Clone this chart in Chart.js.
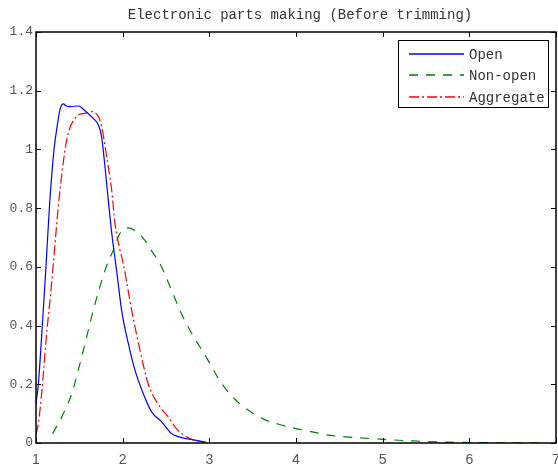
<!DOCTYPE html>
<html>
<head>
<meta charset="utf-8">
<title>Electronic parts making (Before trimming)</title>
<script src="https://cdn.jsdelivr.net/npm/chart.js@4.4.0/dist/chart.umd.min.js"></script>
<style>
    html, body { margin: 0; padding: 0; background: #fff; }
    #wrap { width: 558px; height: 468px; }
</style>
</head>
<body>
<div id="wrap"><canvas id="densityChart" width="558" height="468"></canvas></div>
<script>
// Data
const titleText = 'Electronic parts making (Before trimming)';
const seriesNames = ['Open', 'Non-open', 'Aggregate'];
const seriesColors = ['#0000ff', '#008000', '#ff0000'];

const openX = [1.00, 1.027, 1.073, 1.115, 1.154, 1.208, 1.25, 1.28, 1.315, 1.35, 1.39, 1.49, 1.565, 1.66, 1.72, 1.757, 1.796, 1.834, 1.884, 1.93, 1.988, 2.065, 2.142, 2.238, 2.334, 2.45, 2.565, 2.66, 2.85, 2.96];
const openY = [0.134, 0.20, 0.40, 0.60, 0.80, 1.00, 1.09, 1.14, 1.155, 1.148, 1.146, 1.148, 1.132, 1.106, 1.083, 1.043, 0.941, 0.827, 0.69, 0.588, 0.452, 0.339, 0.248, 0.168, 0.106, 0.072, 0.032, 0.02, 0.009, 0.003];

const nonOpenX = [1.192, 1.315, 1.412, 1.527, 1.661, 1.796, 1.892, 1.969, 2.065, 2.161, 2.238, 2.353, 2.43, 2.565, 2.66, 2.776, 2.892, 3.007, 3.1, 3.2, 3.35, 3.51, 3.66, 3.81, 4.0, 4.2, 4.39, 4.58, 4.97, 5.35, 5.74, 6.2, 6.9];
const nonOpenY = [0.032, 0.10, 0.168, 0.293, 0.452, 0.588, 0.657, 0.714, 0.733, 0.72, 0.697, 0.646, 0.611, 0.52, 0.452, 0.384, 0.327, 0.271, 0.222, 0.18, 0.134, 0.10, 0.077, 0.063, 0.049, 0.037, 0.026, 0.021, 0.013, 0.007, 0.003, 0.001, 0.0];

const aggX = [1.00, 1.027, 1.065, 1.123, 1.169, 1.20, 1.24, 1.277, 1.354, 1.469, 1.565, 1.642, 1.719, 1.758, 1.815, 1.873, 1.911, 1.969, 2.007, 2.104, 2.20, 2.296, 2.43, 2.526, 2.62, 2.776, 2.93];
const aggY = [0.03, 0.066, 0.168, 0.373, 0.509, 0.61, 0.75, 0.862, 1.032, 1.112, 1.123, 1.129, 1.112, 1.077, 0.975, 0.862, 0.748, 0.657, 0.611, 0.452, 0.316, 0.20, 0.123, 0.089, 0.049, 0.015, 0.003];

const xTicks = [1, 2, 3, 4, 5, 6, 7];
const yTicks = [0, 0.2, 0.4, 0.6, 0.8, 1, 1.2, 1.4];
const yTickLabels = ['0', '0.2', '0.4', '0.6', '0.8', '1', '1.2', '1.4'];

function toPoints(xs, ys) {
    return xs.map((x, i) => ({ x: x, y: ys[i] }));
}

const monoFont = '"Liberation Mono", "DejaVu Sans Mono", monospace';

// Frame, inward ticks, title and legend (MATLAB look)
const matlabFrame = {
    id: 'matlabFrame',
    afterDraw(chart) {
        const { ctx, chartArea: a, scales } = chart;
        const xs = scales.x, ys = scales.y;
        const tick = 5;
        ctx.save();

        ctx.strokeStyle = '#000';
        ctx.lineWidth = 1;
        ctx.beginPath();
        xTicks.forEach(v => {
            const px = Math.round(xs.getPixelForValue(v)) + 0.5;
            ctx.moveTo(px, a.bottom); ctx.lineTo(px, a.bottom - tick);
            ctx.moveTo(px, a.top); ctx.lineTo(px, a.top + tick);
        });
        yTicks.forEach(v => {
            const py = Math.round(ys.getPixelForValue(v)) + 0.5;
            ctx.moveTo(a.left, py); ctx.lineTo(a.left + tick, py);
            ctx.moveTo(a.right, py); ctx.lineTo(a.right - tick, py);
        });
        ctx.stroke();

        ctx.lineWidth = 1.5;
        ctx.strokeRect(a.left, a.top, a.right - a.left, a.bottom - a.top);

        // title
        ctx.fillStyle = '#333';
        ctx.font = '14px ' + monoFont;
        ctx.textAlign = 'center';
        ctx.textBaseline = 'middle';
        ctx.fillText(titleText, (a.left + a.right) / 2 + 4, 15);

        // legend
        const box = { x: 398, y: 40, w: 150, h: 67 };
        ctx.fillStyle = '#fff';
        ctx.fillRect(box.x, box.y, box.w, box.h);
        ctx.lineWidth = 1;
        ctx.strokeStyle = '#000';
        ctx.strokeRect(box.x + 0.5, box.y + 0.5, box.w, box.h);
        const rows = [54, 75, 97];
        chart.data.datasets.forEach((ds, i) => {
            ctx.save();
            ctx.beginPath();
            ctx.setLineDash(ds.borderDash || []);
            ctx.strokeStyle = seriesColors[i];
            ctx.lineWidth = 1.5;
            ctx.moveTo(409, rows[i]);
            ctx.lineTo(464, rows[i]);
            ctx.stroke();
            ctx.restore();
            ctx.fillStyle = '#333';
            ctx.textAlign = 'left';
            ctx.textBaseline = 'middle';
            ctx.fillText(ds.label, 469, rows[i] + 1);
        });
        ctx.restore();
    }
};

const ctx = document.getElementById('densityChart');
new Chart(ctx, {
    type: 'line',
    data: {
        datasets: [
            {
                label: seriesNames[0],
                data: toPoints(openX, openY),
                borderColor: seriesColors[0],
                borderWidth: 1.2,
                borderDash: []
            },
            {
                label: seriesNames[1],
                data: toPoints(nonOpenX, nonOpenY),
                borderColor: seriesColors[1],
                borderWidth: 1.2,
                borderDash: [9, 8]
            },
            {
                label: seriesNames[2],
                data: toPoints(aggX, aggY),
                borderColor: seriesColors[2],
                borderWidth: 1.2,
                borderDash: [10, 3, 2, 3]
            }
        ]
    },
    options: {
        responsive: false,
        animation: false,
        elements: {
            point: { radius: 0 },
            line: { cubicInterpolationMode: 'monotone', fill: false }
        },
        layout: { padding: { top: 32, right: 2, left: 0, bottom: 0 } },
        plugins: {
            legend: { display: false },
            title: { display: false },
            tooltip: { enabled: false }
        },
        scales: {
            x: {
                type: 'linear',
                min: 1,
                max: 7,
                grid: { display: false, drawTicks: false },
                border: { display: false },
                ticks: {
                    stepSize: 1,
                    autoSkip: false,
                    maxRotation: 0,
                    padding: 9,
                    color: '#555',
                    font: { family: '"Liberation Sans", Arial, sans-serif', size: 14 }
                },
                afterFit(scale) {
                    scale.height = 25;
                    scale.paddingLeft = 0;
                    scale.paddingRight = 0;
                }
            },
            y: {
                type: 'linear',
                min: 0,
                max: 1.4,
                grid: { display: false, drawTicks: false },
                border: { display: false },
                ticks: {
                    stepSize: 0.2,
                    autoSkip: false,
                    padding: 3,
                    color: '#555',
                    font: { family: monoFont, size: 13 },
                    callback: function(value, index) {
                        return yTickLabels[index];
                    }
                },
                afterFit(scale) {
                    scale.width = 36;
                    scale.paddingTop = 0;
                    scale.paddingBottom = 0;
                }
            }
        }
    },
    plugins: [matlabFrame]
});
</script>
</body>
</html>
